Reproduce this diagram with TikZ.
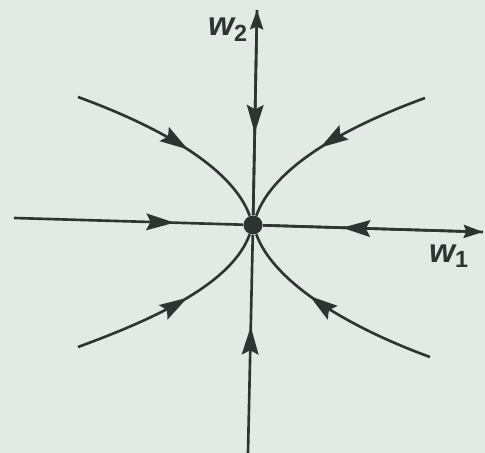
\documentclass[tikz,border=0pt]{standalone}
\usepackage{fontspec}
\setsansfont{Liberation Sans}
\usepackage{xcolor}
\usetikzlibrary{arrows.meta,decorations.markings}
\definecolor{inkG}{HTML}{2E3432}
\definecolor{bgPaper}{HTML}{E3EAE6}

\tikzset{
  traj/.style={draw=inkG, line width=1.5pt},
  flow/.style={traj, postaction={decorate},
    decoration={markings,
      mark=at position #1 with {\arrow{Stealth[length=16pt,width=9.5pt,inset=2.5pt]}}}},
  flow/.default=0.55,
  axistip/.style={traj, -{Stealth[length=11pt,width=7.5pt,inset=1.5pt]}},
  axislbl/.style={font=\sffamily\itshape\fontsize{19}{19}\selectfont, text=inkG, inner sep=0pt}
}

\begin{document}
\begin{tikzpicture}[x=0.02cm, y=-0.02cm]
  \fill[bgPaper] (0,0) rectangle (485,453);
  \useasboundingbox (0,0) rectangle (485,453);

  % fixed point
  \node[circle, fill=inkG, minimum size=0.38cm, inner sep=0pt] (o) at (253,225) {};

  % axis ends
  \coordinate (ytop) at (257,10);
  \coordinate (ybot) at (248,453);
  \coordinate (xleft) at (14,218);
  \coordinate (xright) at (483,232);

  % axes
  \draw[axistip] (o) -- (ytop);
  \draw[axistip] (o) -- (xright);
  \draw[flow=0.6] (ytop) -- (o);
  \draw[flow=0.58] (ybot) -- (o);
  \draw[flow=0.7] (xleft) -- (o);
  \draw[flow=0.64] (xright) -- (o);

  % trajectories
  \coordinate (ul) at (78,97);
  \coordinate (ur) at (425,98);
  \coordinate (ll) at (78,347);
  \coordinate (lr) at (430,357);
  \draw[flow=0.57] (ul) .. controls (163,128) and (233,169) .. (o);
  \draw[flow=0.55] (ur) .. controls (340,129) and (273,169) .. (o);
  \draw[flow=0.57] (ll) .. controls (163,316) and (233,281) .. (o);
  \draw[flow=0.62] (lr) .. controls (345,326) and (273,281) .. (o);

  % labels
  \node[axislbl] (lw2) at (228,30) {\textbf{w}\textsubscript{\upshape\bfseries 2}};
  \node[axislbl] (lw1) at (449,256) {\textbf{w}\textsubscript{\upshape\bfseries 1}};
\end{tikzpicture}
\end{document}
